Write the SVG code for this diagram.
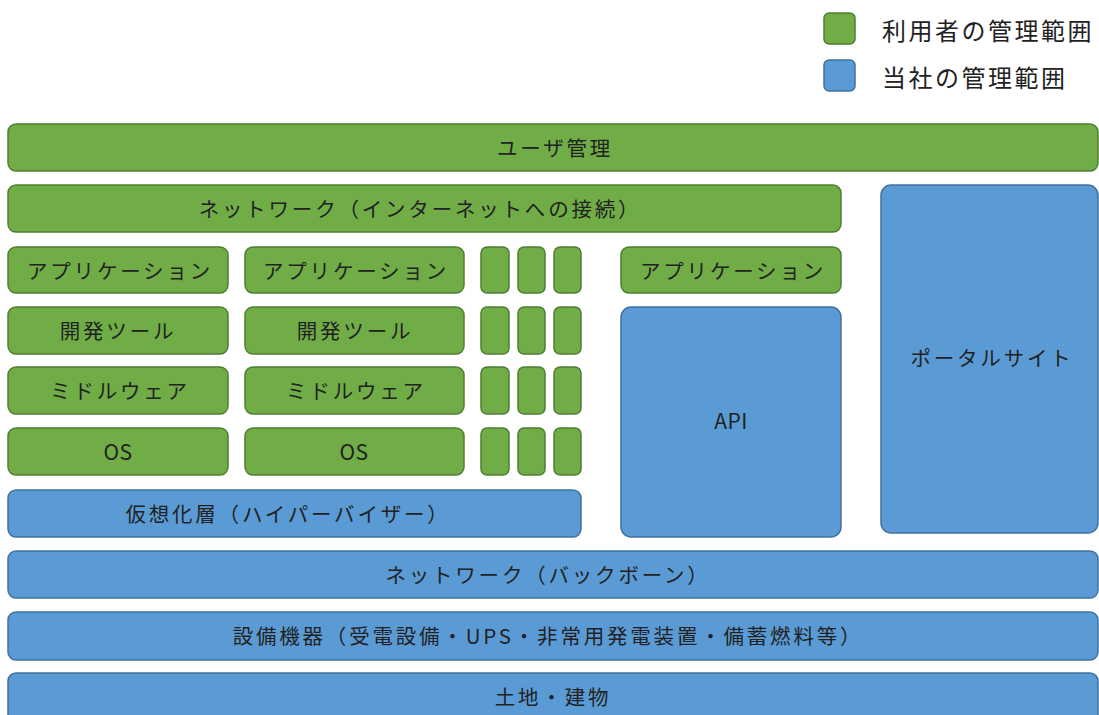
<svg xmlns="http://www.w3.org/2000/svg" width="1099" height="715" viewBox="0 0 1099 715">
<style>
.g{fill:#70AD47;stroke:#507E32;stroke-width:1.5}
.b{fill:#5B9BD5;stroke:#41719C;stroke-width:1.5}
text{font-family:"Noto Sans CJK JP","Noto Sans",sans-serif;font-size:20.5px;fill:#222;letter-spacing:2.8px;text-anchor:middle;dominant-baseline:central}
.lg{font-size:24px;text-anchor:start;letter-spacing:2.5px}
.en{letter-spacing:0.5px;font-size:21px}
</style>
<rect width="1099" height="715" fill="#fff"/>
<g id="legend">
<rect class="g" x="824" y="13" width="31" height="31" rx="5"/>
<text class="lg" x="882" y="29">利用者の管理範囲</text>
<rect class="b" x="824" y="60" width="31" height="31" rx="5"/>
<text class="lg" x="882" y="76">当社の管理範囲</text>
</g>
<g id="user-mgmt"><rect class="g" x="8" y="124" width="1090" height="47" rx="8"/><text x="555" y="147">ユーザ管理</text></g>
<g id="net-internet"><rect class="g" x="8" y="185" width="833" height="47" rx="8"/><text x="420" y="208">ネットワーク（インターネットへの接続）</text></g>
<g id="portal"><rect class="b" x="881" y="185" width="217" height="348" rx="10"/><text x="992" y="357">ポータルサイト</text></g>
<g id="app1"><rect class="g" x="8" y="247" width="220" height="46" rx="8"/><text x="120" y="270">アプリケーション</text></g>
<g id="app2"><rect class="g" x="245" y="247" width="219" height="46" rx="8"/><text x="356" y="270">アプリケーション</text></g>
<g id="app3"><rect class="g" x="621" y="247" width="220" height="46" rx="8"/><text x="733" y="270">アプリケーション</text></g>
<g id="dev1"><rect class="g" x="8" y="307" width="220" height="47" rx="8"/><text x="118" y="330">開発ツール</text></g>
<g id="dev2"><rect class="g" x="245" y="307" width="219" height="47" rx="8"/><text x="355" y="330">開発ツール</text></g>
<g id="mid1"><rect class="g" x="8" y="367" width="220" height="47" rx="8"/><text x="120" y="390">ミドルウェア</text></g>
<g id="mid2"><rect class="g" x="245" y="367" width="219" height="47" rx="8"/><text x="356" y="390">ミドルウェア</text></g>
<g id="os1"><rect class="g" x="8" y="428" width="220" height="47" rx="8"/><text class="en" x="118" y="451">OS</text></g>
<g id="os2"><rect class="g" x="245" y="428" width="219" height="47" rx="8"/><text class="en" x="354" y="451">OS</text></g>
<g id="small">
<rect class="g" x="481" y="247" width="28" height="46" rx="6"/><rect class="g" x="518" y="247" width="27" height="46" rx="6"/><rect class="g" x="554" y="247" width="27" height="46" rx="6"/>
<rect class="g" x="481" y="307" width="28" height="47" rx="6"/><rect class="g" x="518" y="307" width="27" height="47" rx="6"/><rect class="g" x="554" y="307" width="27" height="47" rx="6"/>
<rect class="g" x="481" y="367" width="28" height="47" rx="6"/><rect class="g" x="518" y="367" width="27" height="47" rx="6"/><rect class="g" x="554" y="367" width="27" height="47" rx="6"/>
<rect class="g" x="481" y="428" width="28" height="47" rx="6"/><rect class="g" x="518" y="428" width="27" height="47" rx="6"/><rect class="g" x="554" y="428" width="27" height="47" rx="6"/>
</g>
<g id="api"><rect class="b" x="621" y="307" width="220" height="230" rx="10"/><text class="en" x="731" y="420">API</text></g>
<g id="hypervisor"><rect class="b" x="8" y="490" width="573" height="47" rx="8"/><text x="288" y="513">仮想化層（ハイパーバイザー）</text></g>
<g id="net-backbone"><rect class="b" x="8" y="551" width="1090" height="47" rx="8"/><text x="548" y="574">ネットワーク（バックボーン）</text></g>
<g id="facility"><rect class="b" x="8" y="612" width="1090" height="48" rx="8"/><text x="548" y="635">設備機器（受電設備・UPS・非常用発電装置・備蓄燃料等）</text></g>
<g id="land"><rect class="b" x="8" y="673" width="1090" height="60" rx="8"/><text x="553" y="696">土地・建物</text></g>
<g id="connectors"/>
</svg>
